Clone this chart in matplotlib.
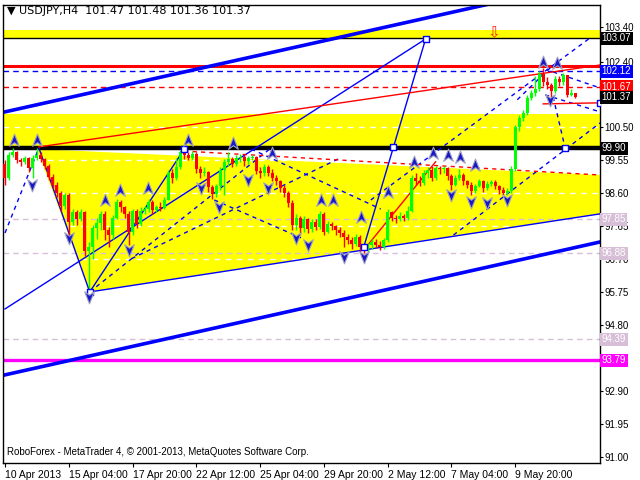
import numpy as np
import matplotlib.pyplot as plt
from matplotlib.path import Path

plt.rcParams['font.family'] = ['Liberation Sans', 'DejaVu Sans']

## data -----
first_open = 99.45
closes = [99.05, 99.70, 99.78, 99.55, 99.50, 99.62, 99.32, 99.62, 99.72, 99.58,
          99.40, 99.08, 98.85, 98.60, 98.25, 98.55, 97.78, 98.05, 97.85, 98.05,
          96.95, 97.05, 97.60, 97.75, 98.00, 97.55, 97.40, 97.90, 98.35, 98.20,
          98.00, 97.48, 98.10, 97.72, 98.10, 98.15, 98.35, 98.12, 98.20, 98.18,
          98.42, 99.20, 99.05, 99.35, 99.78, 99.70, 99.62, 99.75, 99.30, 99.20,
          99.22, 98.78, 98.58, 98.80, 99.28, 99.50, 99.60, 99.45, 99.62, 99.65,
          99.52, 99.62, 99.64, 99.25, 99.18, 99.35, 99.20, 99.05, 98.95, 98.75,
          98.62, 98.32, 97.70, 97.90, 97.60, 97.85, 97.58, 97.78, 97.62, 98.00,
          97.50, 97.72, 97.65, 97.55, 97.45, 97.35, 97.25, 97.15, 97.35, 97.05,
          96.98, 97.10, 97.20, 97.12, 97.05, 97.25, 98.05, 97.90, 97.85, 97.95,
          97.88, 98.10, 99.05, 98.95, 98.90, 99.20, 99.28, 99.05, 99.32, 99.30,
          99.33, 99.10, 98.85, 99.05, 99.12, 98.95, 98.85, 98.68, 98.82, 98.95,
          98.75, 98.88, 98.92, 98.80, 98.70, 98.62, 98.68, 99.30, 100.50, 100.78,
          100.92, 101.35, 101.50, 101.62, 102.05, 101.80, 101.72, 101.55, 101.90, 101.80,
          102.00, 101.45, 101.48, 101.37]
highs = [99.55, 99.78, 99.92, 99.82, 99.62, 99.68, 99.65, 99.70, 99.90, 99.80,
         99.62, 99.45, 99.15, 98.92, 98.68, 98.62, 98.60, 98.15, 98.12, 98.15,
         98.10, 97.20, 97.70, 97.90, 98.10, 98.08, 97.62, 97.98, 98.45, 98.40,
         98.25, 98.10, 98.15, 98.15, 98.20, 98.25, 98.45, 98.40, 98.28, 98.35,
         98.50, 99.28, 99.30, 99.62, 99.85, 99.92, 99.80, 99.82, 99.78, 99.40,
         99.35, 99.25, 98.85, 98.88, 99.35, 99.58, 99.80, 99.65, 99.70, 99.75,
         99.70, 99.68, 99.72, 99.68, 99.35, 99.45, 99.42, 99.30, 99.12, 99.00,
         98.85, 98.68, 98.40, 98.00, 97.95, 97.95, 97.90, 97.85, 97.85, 98.10,
         98.05, 97.80, 97.78, 97.70, 97.62, 97.55, 97.42, 97.35, 97.42, 97.40,
         97.12, 97.18, 97.28, 97.30, 97.22, 97.32, 98.15, 98.10, 97.98, 98.05,
         98.02, 98.25, 99.12, 99.20, 99.10, 99.28, 99.35, 99.38, 99.40, 99.38,
         99.38, 99.36, 99.15, 99.12, 99.30, 99.18, 99.00, 98.92, 98.88, 99.02,
         99.00, 98.95, 99.00, 98.98, 98.85, 98.78, 98.75, 99.38, 100.58, 100.85,
         101.00, 101.45, 101.58, 101.98, 102.12, 102.22, 101.95, 101.78, 101.98, 101.98,
         102.08, 102.02, 101.60, 101.48]
lows = [98.85, 99.00, 99.65, 99.48, 99.38, 99.45, 99.22, 99.05, 99.55, 99.50,
        99.30, 99.00, 98.75, 98.50, 98.10, 98.15, 97.40, 97.70, 97.70, 97.80,
        96.80, 95.65, 96.70, 97.30, 97.55, 97.25, 97.05, 97.30, 97.85, 98.05,
        97.90, 97.10, 97.40, 97.60, 97.65, 98.00, 98.05, 98.00, 98.05, 98.08,
        98.15, 98.40, 98.90, 99.00, 99.30, 99.60, 99.55, 99.55, 99.20, 99.05,
        99.10, 98.65, 98.45, 98.50, 98.70, 98.55, 99.40, 99.35, 99.40, 99.50,
        99.40, 99.45, 99.55, 99.15, 99.05, 99.10, 99.10, 98.95, 98.85, 98.65,
        98.50, 98.20, 97.55, 97.55, 97.40, 97.50, 97.45, 97.50, 97.55, 97.58,
        97.40, 97.45, 97.55, 97.40, 97.35, 97.05, 97.15, 97.00, 97.08, 96.90,
        96.88, 96.92, 97.00, 97.02, 96.98, 97.00, 97.20, 97.80, 97.75, 97.80,
        97.80, 97.82, 98.05, 98.85, 98.80, 98.85, 99.05, 98.95, 99.00, 99.15,
        99.18, 99.00, 98.70, 98.80, 99.00, 98.85, 98.75, 98.55, 98.62, 98.78,
        98.65, 98.70, 98.80, 98.72, 98.58, 98.55, 98.55, 98.62, 99.25, 100.40,
        100.70, 100.85, 101.30, 101.40, 101.55, 101.70, 101.60, 101.30, 101.50, 101.70,
        101.72, 101.38, 101.40, 101.36]

date_ticks = [0, 16, 32, 48, 64, 80, 96, 112, 128]
date_labels = ['10 Apr 2013', '15 Apr 04:00', '17 Apr 20:00', '22 Apr 12:00',
               '25 Apr 04:00', '29 Apr 20:00', '2 May 12:00', '7 May 04:00', '9 May 20:00']
price_ticks = [103.40, 102.40, 101.45, 100.50, 99.55, 98.60, 97.65, 96.70,
               95.75, 94.80, 93.85, 92.90, 91.95, 91.00]
hidden_ticks = [101.45, 93.85]   # covered by the level boxes

# (bar, price) pairs for drawn objects
yellow_zone = [(8, 99.88), (149.25, 99.13), (149.25, 98.01), (21.25, 95.76)]
channel_upper = [(0, 100.95), (149.25, 104.77)]
channel_lower = [(0, 93.37), (149.25, 97.20)]
solid_blue = [[(8.5, 99.91), (21.25, 95.76)],
              [(21.25, 95.76), (149.25, 98.01)],
              [(21.25, 95.76), (45, 99.88)],
              [(0, 95.27), (105.5, 103.05)],
              [(105.5, 103.05), (90, 97.06)]]
dashed_blue = [[(0, 97.46), (8.5, 99.91)],
               [(21.25, 95.76), (66.75, 99.91)],
               [(31.75, 96.72), (84.25, 99.63)],
               [(52.5, 98.41), (74.25, 97.32)],
               [(61.75, 99.88), (94.25, 98.15)],
               [(112.5, 97.40), (149.25, 100.63)],
               [(91.75, 98.41), (146.75, 103.08)],
               [(137.5, 101.38), (140.5, 99.91)],
               [(137.5, 102.10), (149.25, 101.64)],
               [(135.5, 101.44), (149.25, 100.95)],
               [(128.5, 101.30), (137.5, 102.30)]]
solid_red = [[(8.5, 99.94), (149.25, 102.30)],
             [(135, 101.18), (149.25, 101.21)],
             [(90, 96.97), (108, 99.51)]]
dashed_red = [[(45, 99.82), (149.25, 99.13)]]
squares = [(21.25, 95.76), (45, 99.88), (105.5, 103.05), (97.25, 99.94),
           (90, 97.06), (149.25, 101.21), (140.5, 99.91)]
up_arrows = [(2.25, 100.14), (8, 100.14), (25, 98.41), (28.75, 98.70), (35.75, 98.76),
             (46, 100.14), (57.25, 100.06), (67, 99.77), (79.25, 98.41), (82.25, 98.41),
             (89.25, 97.92), (96, 98.64), (102.5, 99.51), (107.25, 99.77), (111, 99.71),
             (114.25, 99.65), (118, 99.42), (135, 102.39), (138.5, 102.36)]
down_arrows = [(6.75, 98.84), (16, 97.32), (21, 95.61), (31, 96.97), (49.25, 98.76),
               (53.75, 98.21), (61, 98.99), (66, 98.76), (73, 97.32), (76, 97.11),
               (85, 96.77), (90, 96.77), (112, 98.56), (117, 98.35), (121, 98.33),
               (126, 98.41), (136.75, 101.30)]

# right-hand boxed price labels
box_prices = [103.07, 102.12, 101.67, 101.37, 99.90, 97.85, 96.88, 94.39, 93.79]
box_colors = ['black', '#0000ff', '#ff0000', 'black', 'black',
              '#d8bfd8', '#d8bfd8', '#d8bfd8', '#ff00ff']

## figure -----
fig = plt.figure(figsize=(6.4, 4.8), dpi=100, facecolor='white')
ax = fig.add_axes([3/640, 17/480, 597/640, 458/480])
ax.set_xlim(-0.5, 149.25)
ax.set_ylim(90.83, 104.03)

# background zones
ax.axhspan(103.07, 103.30, color='#ffff00', lw=0, zorder=0.5)
ax.axhspan(99.90, 100.89, color='#ffff00', lw=0, zorder=0.5)
ax.add_patch(plt.Polygon(yellow_zone, closed=True, fc='#ffff00', ec='none', zorder=0.5))

for p in price_ticks:
    ax.axhline(p, color='white', lw=1, ls=(0, (4, 4)), zorder=1)

# horizontal levels
ax.axhline(103.07, color='black', lw=1, zorder=2)
ax.axhline(102.26, color='#ff0000', lw=2.2, zorder=2)
ax.axhline(102.12, color='#0000ff', lw=1, ls=(0, (4, 3)), zorder=2)
ax.axhline(101.67, color='#ff0000', lw=1, ls=(0, (4, 3)), zorder=2)
ax.axhline(99.90, color='black', lw=3.2, zorder=2)
for p in [97.85, 96.88, 94.39]:
    ax.axhline(p, color='#d8bfd8', lw=1, ls=(0, (4, 3)), zorder=2)
ax.axhline(93.79, color='#ff00ff', lw=2.4, zorder=2)

# trend lines
for seg in [channel_upper, channel_lower]:
    xs, ys = zip(*seg)
    ax.plot(xs, ys, color='#0000ff', lw=2.6, zorder=2)
for seg in solid_blue:
    xs, ys = zip(*seg)
    ax.plot(xs, ys, color='#0000ff', lw=1, zorder=2)
for seg in dashed_blue:
    xs, ys = zip(*seg)
    ax.plot(xs, ys, color='#0000ff', lw=1, ls=(0, (3, 3)), zorder=2)
for seg in solid_red:
    xs, ys = zip(*seg)
    ax.plot(xs, ys, color='#ff0000', lw=1, zorder=2)
for seg in dashed_red:
    xs, ys = zip(*seg)
    ax.plot(xs, ys, color='#ff0000', lw=1, ls=(0, (3, 3)), zorder=2)

# candles
closes = np.array(closes)
opens = np.concatenate([[first_open], closes[:-1]])
idx = np.arange(len(closes))
up = closes >= opens
cols = np.where(up, '#00ff00', '#ff0000')
ax.vlines(idx, lows, highs, colors=cols, lw=1, zorder=3)
bottoms = np.minimum(opens, closes)
heights = np.maximum(np.abs(closes - opens), 0.03)
ax.bar(idx, heights, bottom=bottoms, width=0.75, color=cols, lw=0, zorder=3)

# markers
sq = np.array(squares)
ax.scatter(sq[:, 0], sq[:, 1], marker='s', s=18, facecolor='white',
           edgecolor='#0000ff', lw=1, zorder=4)
arrow_up = Path([(0, 1), (0.75, -0.9), (0, -0.35), (-0.75, -0.9), (0, 1)],
                [Path.MOVETO, Path.LINETO, Path.LINETO, Path.LINETO, Path.CLOSEPOLY])
arrow_dn = Path([(0, -1), (0.75, 0.9), (0, 0.35), (-0.75, 0.9), (0, -1)],
                [Path.MOVETO, Path.LINETO, Path.LINETO, Path.LINETO, Path.CLOSEPOLY])
ua = np.array(up_arrows)
da = np.array(down_arrows)
ax.scatter(ua[:, 0], ua[:, 1], marker=arrow_up, s=85, facecolor='#1818c8',
           edgecolor='#a0a0c0', lw=0.8, zorder=5)
ax.scatter(da[:, 0], da[:, 1], marker=arrow_dn, s=85, facecolor='#1818c8',
           edgecolor='#a0a0c0', lw=0.8, zorder=5)
ax.text(122.5, 103.22, '\u21e9', color='#ff2000', fontsize=11, ha='center',
        va='center', zorder=5, family='DejaVu Sans')

# axes styling
for s in ax.spines.values():
    s.set_color('black')
    s.set_linewidth(1)
ax.yaxis.tick_right()
ax.set_yticks(price_ticks)
ax.set_yticklabels(['' if p in hidden_ticks else f'{p:.2f}' for p in price_ticks])
ax.set_xticks(date_ticks)
ax.set_xticklabels(date_labels, ha='left')
ax.tick_params(axis='x', labelsize=7.5, length=3, width=0.8, colors='black', pad=2)
ax.tick_params(axis='y', labelsize=7, length=2, width=0.8, colors='black', pad=1)

for p, c in zip(box_prices, box_colors):
    ax.text(1.003, p, f'{p:.2f}', transform=ax.get_yaxis_transform(),
            fontsize=7, color='white', va='center', ha='left', zorder=6,
            bbox=dict(boxstyle='square,pad=0.15', fc=c, ec='none'), clip_on=False)

fig.text(7/640, 1 - 11/480, '\u25bc USDJPY,H4  101.47 101.48 101.36 101.37',
         fontsize=8, va='center', ha='left', family=['DejaVu Sans'])
fig.text(7/640, 1 - 452/480, 'RoboForex - MetaTrader 4, \u00a9 2001-2013, MetaQuotes Software Corp.',
         fontsize=7, va='center', ha='left')

fig.savefig('out.png', dpi=100, facecolor='white')
